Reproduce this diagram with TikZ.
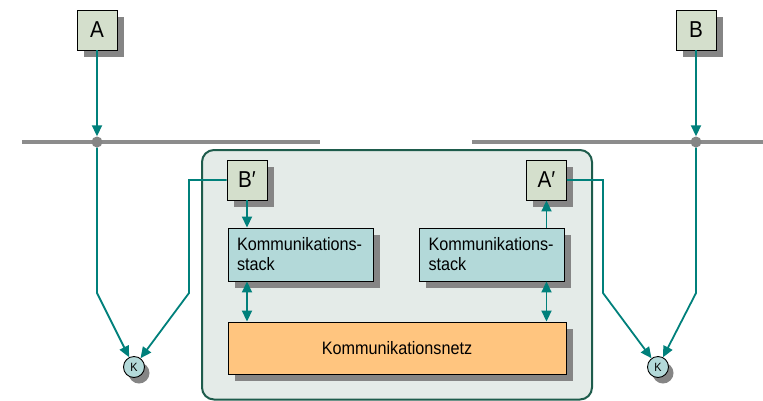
\documentclass[tikz,border=0pt]{standalone}
\usepackage{fontspec}
\setmainfont[FakeStretch=0.9]{Liberation Sans}
\usetikzlibrary{arrows.meta,shadows}
\definecolor{lineteal}{HTML}{00807B}
\definecolor{busgray}{HTML}{8C8C8C}
\definecolor{shadowgray}{HTML}{858585}
\definecolor{boxgreen}{HTML}{D4DFCC}
\definecolor{stackblue}{HTML}{B3D9D9}
\definecolor{netzorange}{HTML}{FFC57F}
\definecolor{contfill}{HTML}{E4EBE8}
\definecolor{contborder}{HTML}{1E5C4C}
\tikzset{
  shad/.style={drop shadow={shadow xshift=6.5pt,shadow yshift=-7pt,fill=shadowgray,opacity=1}},
  letterbox/.style={shad,draw=black,line width=0.9pt,fill=boxgreen,minimum width=40pt,minimum height=40pt,inner sep=0pt,font=\fontsize{23}{26}\selectfont},
  stackbox/.style={shad,draw=black,line width=0.9pt,fill=stackblue,minimum width=145pt,minimum height=53pt,text width=127pt,inner xsep=9pt,align=left,font=\fontsize{18}{20}\selectfont},
  netzbox/.style={shad,draw=black,line width=0.9pt,fill=netzorange,minimum width=338pt,minimum height=52pt,font=\fontsize{18}{20}\selectfont},
  kcircle/.style={circle,drop shadow={shadow xshift=5pt,shadow yshift=-6pt,fill=shadowgray,opacity=1},draw=black,line width=0.9pt,fill=stackblue,minimum size=21pt,inner sep=0pt,font=\fontsize{12}{14}\selectfont},
  busdot/.style={circle,fill=shadowgray,minimum size=11pt,inner sep=0pt},
  bus/.style={busgray,line width=3.5pt},
  conn/.style={lineteal,line width=1.8pt},
  arr/.style={conn,-{Triangle[length=11pt,width=10pt]}},
  darr/.style={conn,{Triangle[length=11pt,width=10pt]}-{Triangle[length=11pt,width=10pt]}}
}
\begin{document}
\begin{tikzpicture}[x=1pt,y=-1pt]
\useasboundingbox (0,0) rectangle (763,400);
% container
\draw[contborder,line width=2pt,fill=contfill,rounded corners=12pt] (202,150) rectangle (592,399.5);
% bus lines
\draw[bus] (22,142) -- (320,142);
\draw[bus] (472,142) -- (763,142);
% nodes
\node[letterbox] (A) at (97,30) {A};
\node[letterbox] (B) at (696,30) {B};
\node[letterbox] (Bp) at (247,180) {B′};
\node[letterbox] (Ap) at (546.5,180) {A′};
\node[stackbox] (SL) at (300.5,254.5) {Kommunikations-\\stack};
\node[stackbox] (SR) at (492,254.5) {Kommunikations-\\stack};
\node[netzbox] (N) at (397,348) {Kommunikationsnetz};
\node[kcircle] (KL) at (134,367) {K};
\node[kcircle] (KR) at (658,367) {K};
\node[busdot] (dA) at (97,142) {};
\node[busdot] (dB) at (696,142) {};
% coordinates for bends
\coordinate (al) at (97,293);
\coordinate (bl) at (189,293);
\coordinate (ar) at (603,293);
\coordinate (br) at (696,293);
% connectors
\draw[arr] (A) -- (dA);
\draw[arr] (B) -- (dB);
\draw[arr] (dA) -- (al) -- (KL);
\draw[arr] (Bp.west) -| (bl) -- (KL);
\draw[arr] (Ap.east) -| (ar) -- (KR);
\draw[arr] (dB) -- (br) -- (KR);
\draw[arr] (Bp.south) -- (SL.north -| Bp.south);
\draw[arr] (SR.north -| Ap.south) -- (Ap.south);
\draw[darr] (SL.south -| Bp.south) -- (N.north -| Bp.south);
\draw[darr] (SR.south -| Ap.south) -- (N.north -| Ap.south);
\end{tikzpicture}
\end{document}
